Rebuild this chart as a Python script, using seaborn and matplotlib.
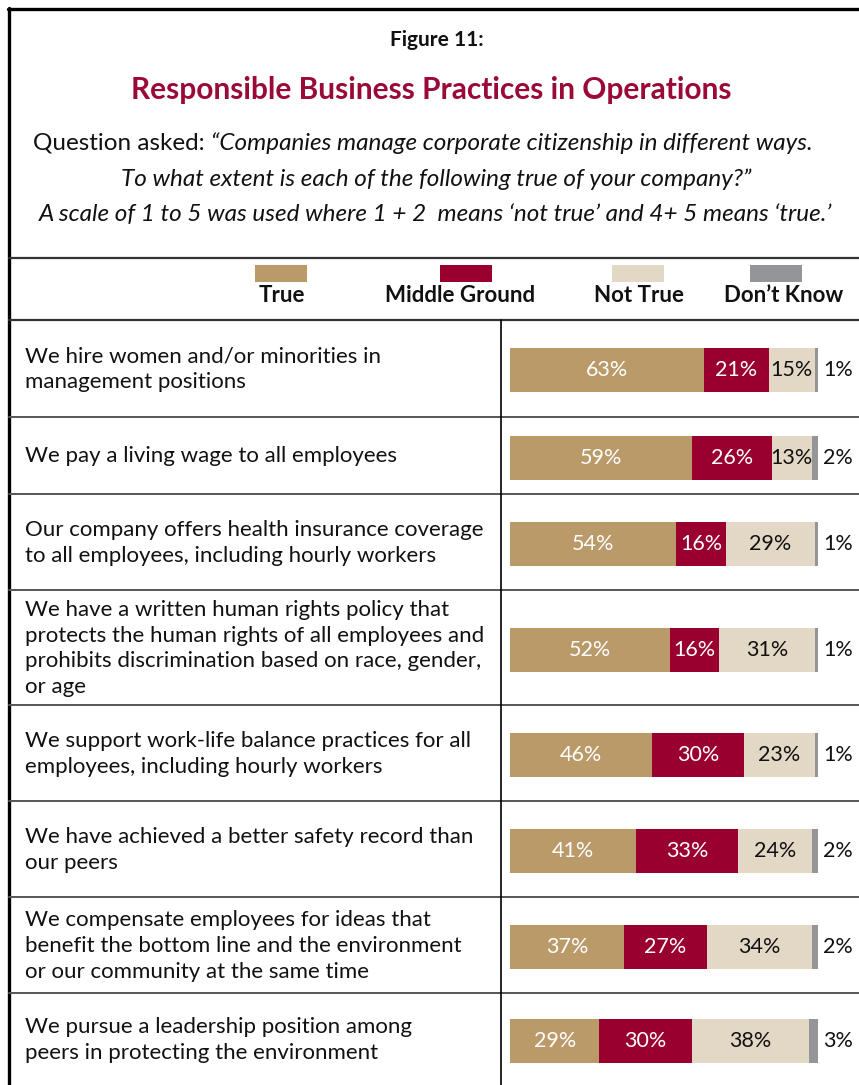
import pandas as pd
import seaborn as sns
import matplotlib.pyplot as plt
from matplotlib.patches import Rectangle

# ---- data ----
statements = [
    "We hire women and/or minorities in\nmanagement positions",
    "We pay a living wage to all employees",
    "Our company offers health insurance coverage\nto all employees, including hourly workers",
    "We have a written human rights policy that\nprotects the human rights of all employees and\nprohibits discrimination based on race, gender,\nor age",
    "We support work-life balance practices for all\nemployees, including hourly workers",
    "We have achieved a better safety record than\nour peers",
    "We compensate employees for ideas that\nbenefit the bottom line and the environment\nor our community at the same time",
    "We pursue a leadership position among\npeers in protecting the environment",
]
true_vals = [63, 59, 54, 52, 46, 41, 37, 29]
middle_vals = [21, 26, 16, 16, 30, 33, 27, 30]
not_true_vals = [15, 13, 29, 31, 23, 24, 34, 38]
dont_know_vals = [1, 2, 1, 1, 1, 2, 2, 3]

categories = ["True", "Middle Ground", "Not True", "Don\u2019t Know"]
colors = ["#BB9A6A", "#990030", "#E3D8C5", "#939598"]
text_colors = ["white", "white", "#111111", "#111111"]

# ---- layout (pixels) ----
W, H = 859, 1085
row_edges = [320, 417, 494, 590, 705, 801, 897, 993, 1085]
bar_x0, px_per_pct, bar_h = 510, 3.08, 44

sns.set_theme(style="white")
plt.rcParams["font.family"] = ["Lato", "DejaVu Sans"]

fig = plt.figure(figsize=(W / 100, H / 100), dpi=100)
bg = fig.add_axes([0, 0, 1, 1])
bg.set_xlim(0, W)
bg.set_ylim(H, 0)
bg.axis("off")

# frame and grid lines
bg.plot([8, W], [9, 9], color="black", lw=2.4)
bg.plot([9, 9], [8, H], color="black", lw=2.4)
bg.plot([9, W], [258, 258], color="#333333", lw=1.6)
bg.plot([9, W], [320, 320], color="#333333", lw=1.6)
for y in row_edges[1:-1]:
    bg.plot([9, W], [y, y], color="#555555", lw=1.4)
bg.plot([501, 501], [320, H], color="black", lw=1.2)

# header text
bg.text(437, 40, "Figure 11:", ha="center", va="center", fontsize=15,
        fontweight="bold", color="#111111")
bg.text(431, 90, "Responsible Business Practices in Operations", ha="center",
        va="center", fontsize=21.5, fontweight="bold", color="#9B0A37")

renderer = fig.canvas.get_renderer()
q1 = bg.text(33, 143, "Question asked: ", ha="left", va="center", fontsize=17.5,
             color="#111111")
bb = q1.get_window_extent(renderer)
x_it = bg.transData.inverted().transform((bb.x1, 0))[0]
bg.text(x_it, 143, "\u201cCompanies manage corporate citizenship in different ways.",
        ha="left", va="center", fontsize=17.5, style="italic", color="#111111")
bg.text(436, 179, "To what extent is each of the following true of your company?\u201d",
        ha="center", va="center", fontsize=17.5, style="italic", color="#111111")
bg.text(435, 215, "A scale of 1 to 5 was used where 1 + 2  means \u2018not true\u2019 and 4+ 5 means \u2018true.\u2019",
        ha="center", va="center", fontsize=17.5, style="italic", color="#111111")

# legend
swatch_centers = [281, 466, 638, 776]
label_centers = [282, 460, 639, 784]
for cat, col, sx, lx in zip(categories, colors, swatch_centers, label_centers):
    bg.add_patch(Rectangle((sx - 26, 265), 52, 17, color=col, lw=0))
    bg.text(lx, 295, cat, ha="center", va="center", fontsize=16,
            fontweight="bold", color="#111111")

# rows
for i, stmt in enumerate(statements):
    top, bottom = row_edges[i], row_edges[i + 1]
    cy = (top + bottom) / 2
    bg.text(25, cy + 1, stmt, ha="left", va="center", fontsize=16,
            color="#111111", linespacing=1.36)

    vals = [true_vals[i], middle_vals[i], not_true_vals[i], dont_know_vals[i]]
    cum = pd.Series(vals).cumsum().tolist()
    df = pd.DataFrame({"category": categories, "cum": cum, "row": [stmt] * 4})

    ax = fig.add_axes([bar_x0 / W, 1 - (cy + 2 + bar_h / 2) / H,
                       (W - bar_x0) / W, bar_h / H])
    sns.barplot(data=df, x="cum", y="row", hue="category",
                hue_order=categories[::-1], palette=dict(zip(categories, colors)),
                dodge=False, width=1, legend=False, ax=ax, saturation=1,
                linewidth=0)
    ax.set_xlim(0, (W - bar_x0) / px_per_pct)
    ax.set_ylim(0.5, -0.5)
    ax.axis("off")

    starts = [0] + cum[:-1]
    for j in range(3):
        ax.text((starts[j] + cum[j]) / 2, 0, f"{vals[j]}%", ha="center",
                va="center", fontsize=15.5, color=text_colors[j])
    ax.text(cum[3] + 1.6, 0, f"{vals[3]}%", ha="left", va="center",
            fontsize=15.5, color="#111111", clip_on=False)

fig.savefig("out.png", dpi=100)
